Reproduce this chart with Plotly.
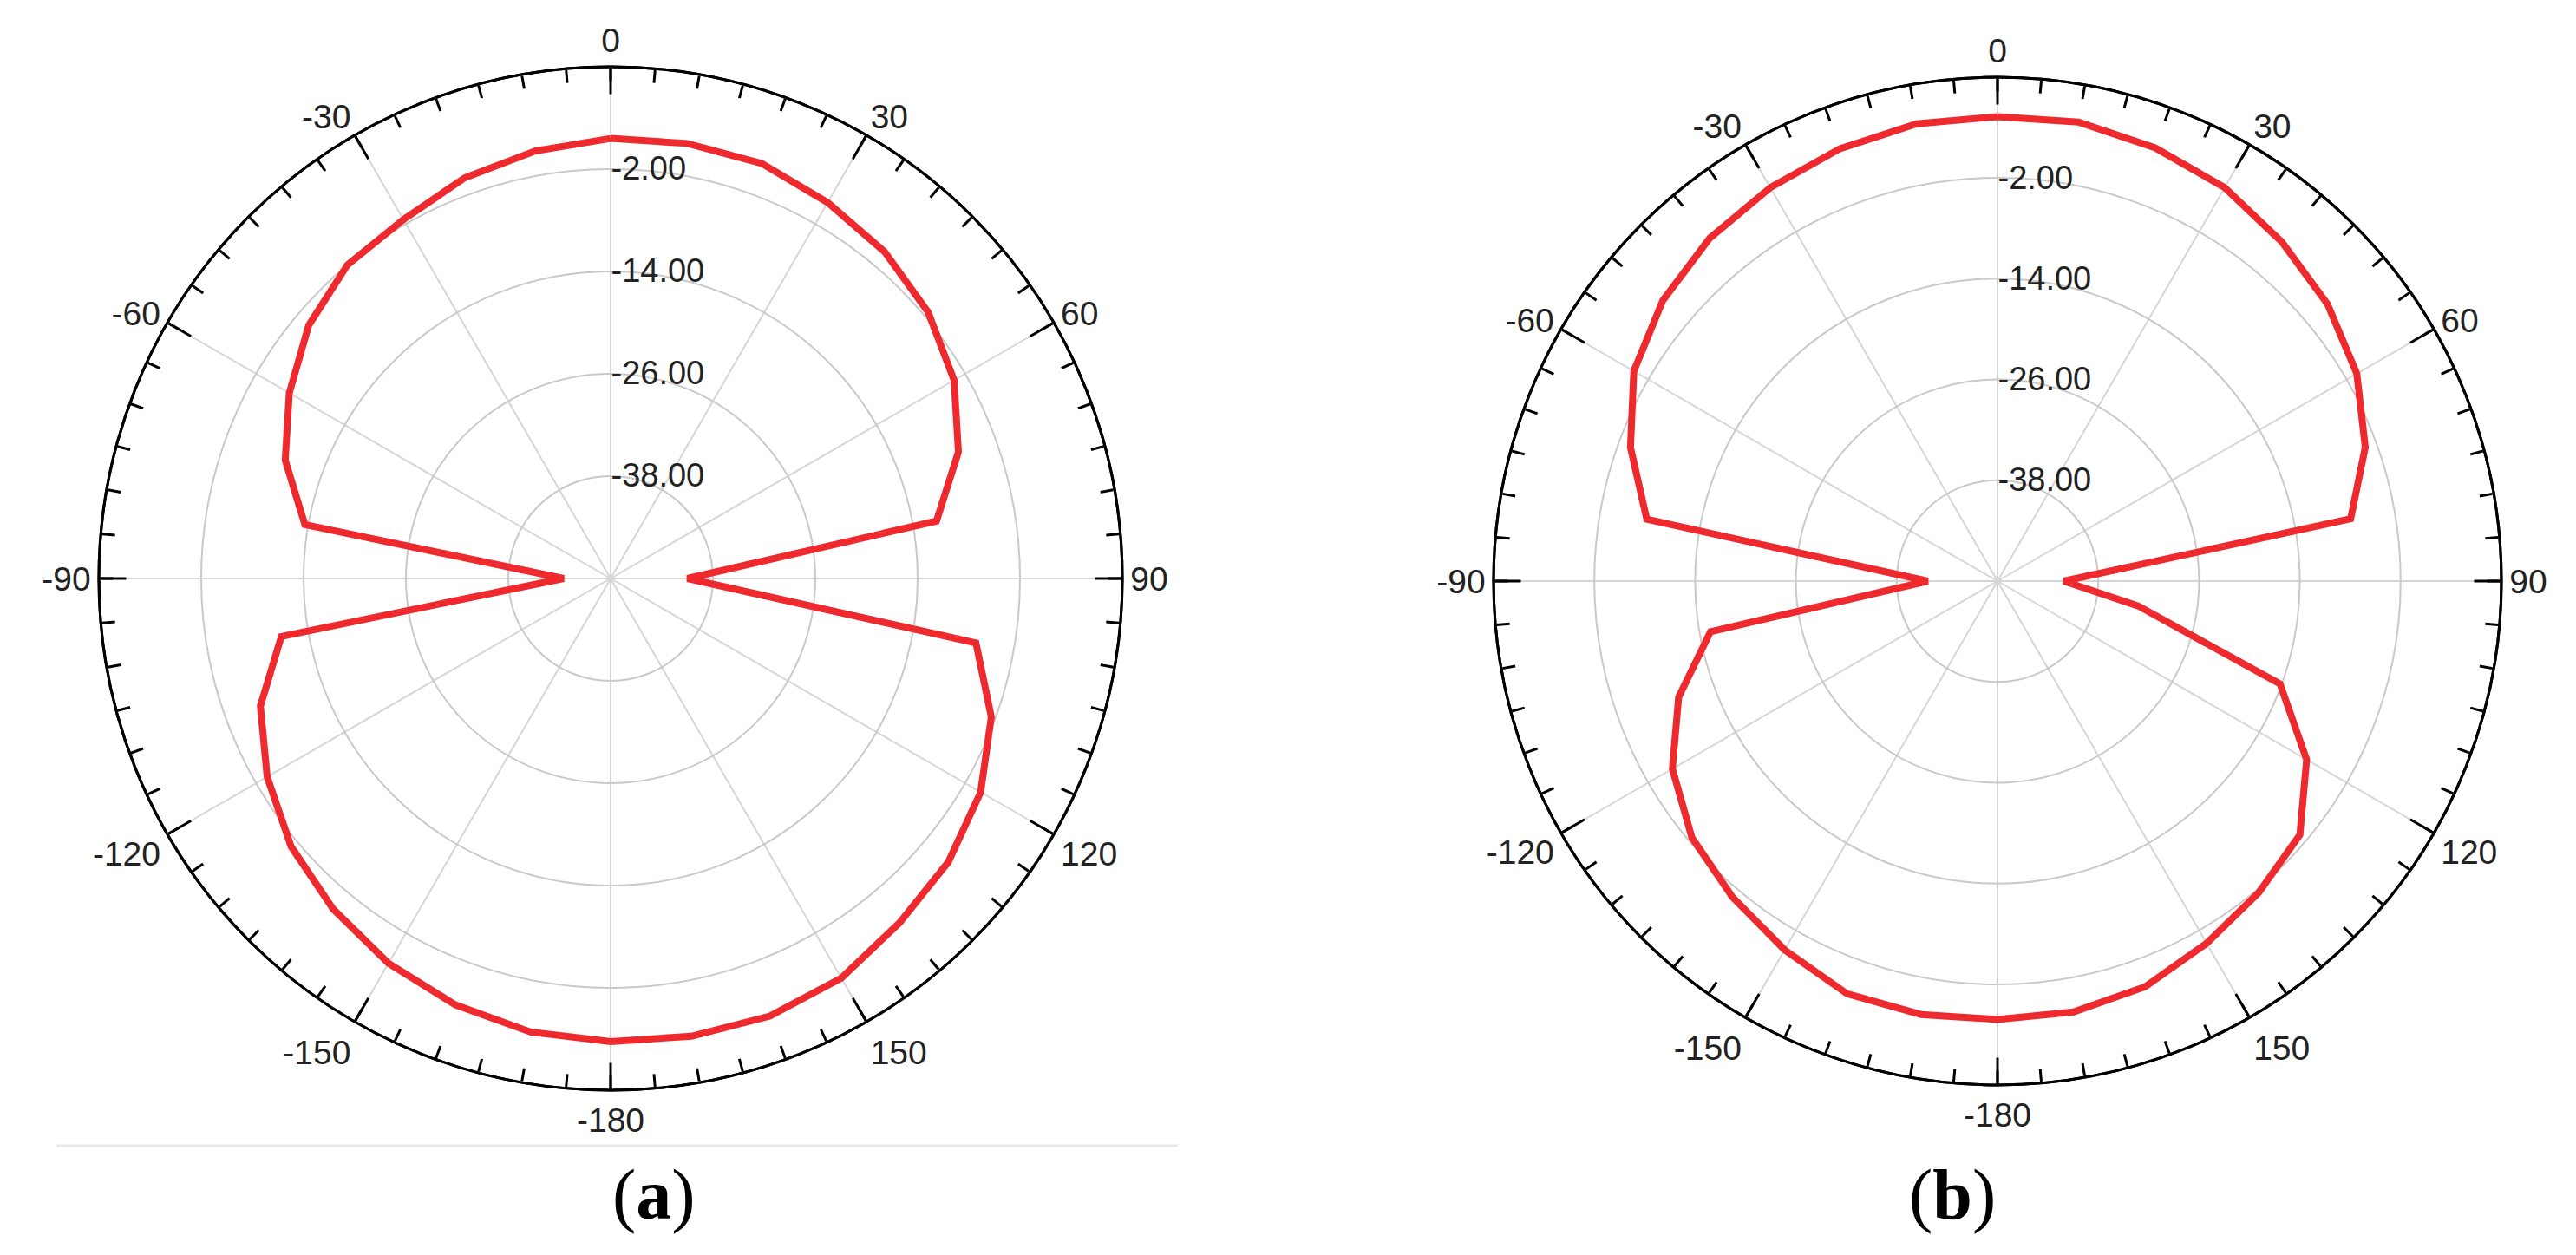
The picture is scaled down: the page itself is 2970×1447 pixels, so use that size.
import plotly.graph_objects as go

## angles (deg, clockwise from top) and gains (dB)

theta = [0, 10, 20, 30, 40, 50, 60, 70, 80, 90, 100, 110, 120, 130, 140, 150, 160, 170, 180,
         -170, -160, -150, -140, -130, -120, -110, -100, -90, -80, -70, -60, -50, -40, -30, -20, -10, 0]

gain_a = [1.6, 1.8, 1.8, 0.9, 0.0, -1.4, -3.5, -6.6, -11.2, -41.0, -6.5, -2.5, 0.1, 1.7, 2.7, 4.1, 4.6, 4.5, 4.3,
          4.0, 3.2, 2.1, 0.6, -1.1, -3.5, -6.3, -10.8, -44.5, -13.6, -9.4, -6.5, -3.8, -2.0, -1.4, 0.0, 0.9, 1.6]

gain_b = [5.3, 5.5, 4.9, 4.1, 2.7, 1.3, -0.6, -3.4, -7.3, -42.1, -33.0, -14.2, -7.5, -3.0, -1.6, -0.2, 1.4, 2.1, 2.2,
          2.4, 2.3, 0.7, -0.9, -2.5, -5.3, -9.6, -15.3, -41.7, -7.6, -3.5, 0.0, 2.0, 3.3, 4.1, 4.8, 5.3, 5.3]

major_vals = [0, 30, 60, 90, 120, 150, 180, 210, 240, 270, 300, 330]
major_text = ['0', '30', '60', '90', '120', '150', '-180', '-150', '-120', '-90', '-60', '-30']
minor_vals = list(range(0, 360, 5))

r_range = [-50, 10]
r_ticks = [-38, -26, -14, -2]
r_text = ['-38.00', '-26.00', '-14.00', '-2.00']

panels = ['(<b>a</b>)', '(<b>b</b>)']

W, H = 2970, 1447
# centre x, centre y (from top), outer radius in px
panes = [(696, 659, 590), (2295, 662, 581)]

fig = go.Figure()

for i, g in enumerate([gain_a, gain_b]):
    base = 'polar' if i == 0 else 'polar3'
    over = 'polar2' if i == 0 else 'polar4'
    fig.add_trace(go.Scatterpolar(r=g, theta=theta, mode='lines', subplot=base,
                                  line=dict(color='#EE2A2E', width=8), showlegend=False))
    # empty trace so the tick overlay gets drawn
    fig.add_trace(go.Scatterpolar(r=[], theta=[], mode='lines', subplot=over,
                                  showlegend=False, hoverinfo='skip'))

def domain(cx, cy, R):
    return dict(x=[(cx - R) / W, (cx + R) / W],
                y=[(H - cy - R) / H, (H - cy + R) / H])

for i, (cx, cy, R) in enumerate(panes):
    base = 'polar' if i == 0 else 'polar3'
    over = 'polar2' if i == 0 else 'polar4'
    fig.update_layout({
        base: dict(
            domain=domain(cx, cy, R),
            bgcolor='rgba(0,0,0,0)',
            angularaxis=dict(rotation=90, direction='clockwise',
                             tickmode='array', tickvals=major_vals, ticktext=major_text,
                             ticks='inside', ticklen=30, tickwidth=3, tickcolor='black',
                             showline=True, linecolor='black', linewidth=3,
                             gridcolor='#d6d6d6', gridwidth=2,
                             tickfont=dict(family='Liberation Sans', size=39, color='#222222')),
            radialaxis=dict(range=r_range, angle=90, side='clockwise', tickangle=90,
                            tickmode='array', tickvals=r_ticks, ticktext=r_text,
                            showline=False, ticks='', gridcolor='#c9c9c9', gridwidth=2,
                            tickfont=dict(family='Liberation Sans', size=38, color='#222222')),
        ),
        # minor 5-degree ticks on a transparent overlay
        over: dict(
            domain=domain(cx, cy, R),
            bgcolor='rgba(0,0,0,0)',
            angularaxis=dict(rotation=90, direction='clockwise',
                             tickmode='array', tickvals=minor_vals,
                             ticks='inside', ticklen=15, tickwidth=3, tickcolor='black',
                             showline=True, linecolor='black', linewidth=3,
                             showgrid=False, showticklabels=False),
            radialaxis=dict(range=r_range, visible=False),
        ),
    })
    fig.add_annotation(x=cx / W, y=(H - 1369) / H, xref='paper', yref='paper',
                       text=panels[i], showarrow=False, yanchor='middle',
                       font=dict(family='Liberation Serif', size=82, color='black'))

# thin separator under panel (a)
fig.add_shape(type='line', xref='paper', yref='paper',
              x0=57 / W, x1=1350 / W, y0=(H - 1313) / H, y1=(H - 1313) / H,
              line=dict(color='#e8e8e8', width=3))

fig.update_layout(width=W, height=H, margin=dict(l=0, r=0, t=0, b=0),
                  paper_bgcolor='white', plot_bgcolor='white')

fig.write_html("out.html")
